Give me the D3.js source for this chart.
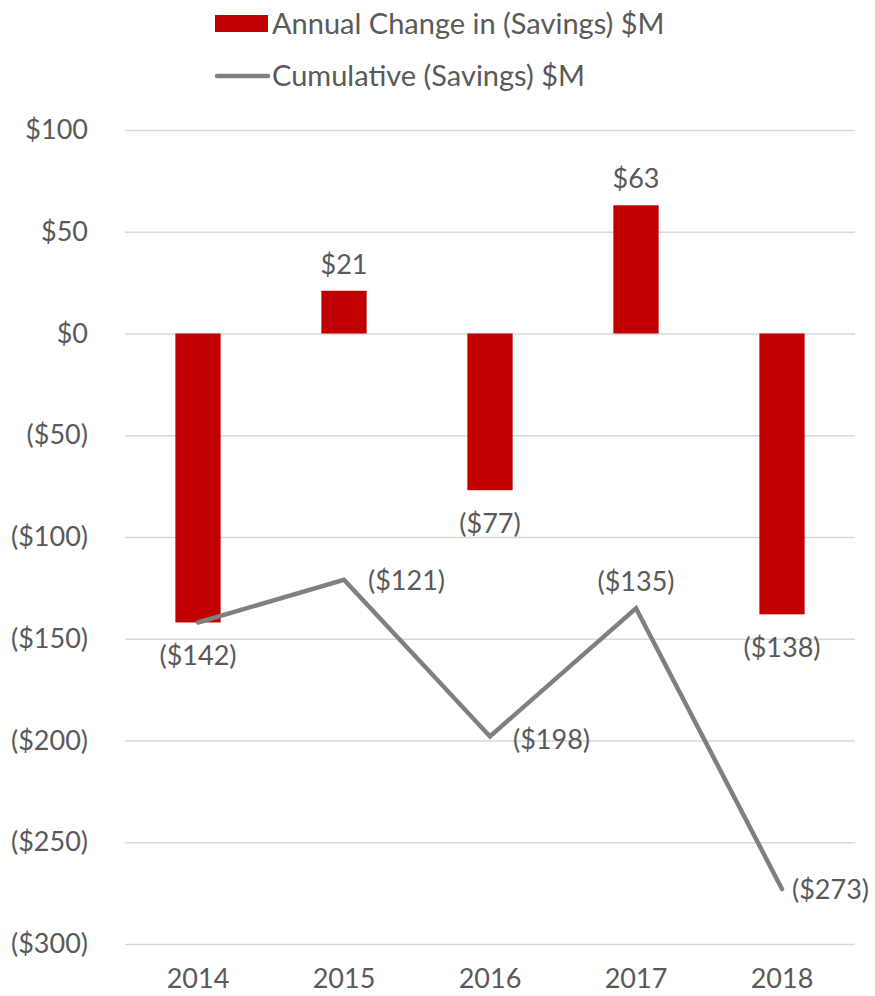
<!DOCTYPE html>
<html><head><meta charset="utf-8">
<script src="https://cdn.jsdelivr.net/npm/d3@7"></script>
<style>
body{margin:0;background:#fff;}
text{font-family:Lato,"Open Sans",sans-serif;fill:#595959;}
</style></head>
<body><svg id="c" width="875" height="996"></svg>
<script>
const years = ["2014","2015","2016","2017","2018"];
const annualChange = [-142, 21, -77, 63, -138];
const cumulative = [-142, -121, -198, -135, -273];
const yTicks = [100, 50, 0, -50, -100, -150, -200, -250, -300];
const seriesNames = ["Annual Change in (Savings) $M", "Cumulative (Savings) $M"];

(function(){
const svg = d3.select("#c");
const mLeft = 125, mRight = 855, mTop = 130, mBottom = 944;
const FS = 27;
const x = d3.scaleBand().domain(years).range([mLeft, mRight]).paddingInner(0.69).paddingOuter(0.345);
const y = d3.scaleLinear().domain([-300, 100]).range([mBottom, mTop]);
const fmt = v => v < 0 ? "($" + Math.abs(v) + ")" : "$" + v;

// gridlines
const yAxis = d3.axisLeft(y).tickValues(yTicks).tickSize(-(mRight-mLeft)).tickFormat(fmt).tickPadding(37);
const gy = svg.append("g").attr("transform", `translate(${mLeft},0)`).call(yAxis);
gy.select(".domain").remove();
gy.selectAll(".tick line").attr("stroke", "#d9d9d9").attr("stroke-width", 1.5);
gy.selectAll(".tick text").attr("font-size", FS).style("fill", "#595959").style("font-family","Lato,'Open Sans',sans-serif");

// x axis labels
const xAxis = d3.axisBottom(x).tickSize(0).tickPadding(25);
const gx = svg.append("g").attr("transform", `translate(0,${mBottom})`).call(xAxis);
gx.select(".domain").remove();
gx.selectAll(".tick text").attr("font-size", FS).style("fill", "#595959").style("font-family","Lato,'Open Sans',sans-serif");

// bars
svg.append("g").selectAll("rect").data(annualChange).join("rect")
  .attr("x", (d,i) => x(years[i]))
  .attr("width", x.bandwidth())
  .attr("y", d => y(Math.max(0, d)))
  .attr("height", d => Math.abs(y(d) - y(0)))
  .attr("fill", "#c00000");

// bar labels
svg.append("g").selectAll("text").data(annualChange).join("text")
  .attr("x", (d,i) => x(years[i]) + x.bandwidth()/2)
  .attr("y", d => d >= 0 ? y(d) - 17 : y(d) + 43)
  .attr("text-anchor", "middle").attr("font-size", FS)
  .text(d => fmt(d));

// line
const line = d3.line().x((d,i) => x(years[i]) + x.bandwidth()/2).y(d => y(d));
svg.append("path").datum(cumulative).attr("d", line)
  .attr("fill", "none").attr("stroke", "#808080").attr("stroke-width", 4.5)
  .attr("stroke-linecap", "round").attr("stroke-linejoin", "miter");

// line labels (2014 coincides with bar label)
const linePos = [null, "right", "right", "above", "right"];
const lineDx = [0, 24, 23, 0, 10];
const lineDy = [0, 1, 3, -17, 0];
const lineLab = cumulative.map((v,i) => ({v, i})).filter(o => linePos[o.i] !== null);
svg.append("g").selectAll("text").data(lineLab).join("text")
  .attr("x", o => x(years[o.i]) + x.bandwidth()/2 + lineDx[o.i])
  .attr("y", o => y(o.v) + lineDy[o.i])
  .attr("text-anchor", o => linePos[o.i] === "above" ? "middle" : "start")
  .attr("dy", o => linePos[o.i] === "above" ? 0 : "0.35em")
  .attr("font-size", FS)
  .text(o => fmt(o.v));

// legend
const lg = svg.append("g");
lg.append("rect").attr("x", 215).attr("y", 15).attr("width", 53).attr("height", 17).attr("fill", "#c00000");
lg.append("text").attr("x", 272).attr("y", 34).attr("font-size", 29).text(seriesNames[0]);
lg.append("line").attr("x1", 217).attr("x2", 268).attr("y1", 76).attr("y2", 76)
  .attr("stroke", "#808080").attr("stroke-width", 4.5).attr("stroke-linecap", "round");
lg.append("text").attr("x", 272).attr("y", 86).attr("font-size", 29).text(seriesNames[1]);
})();
</script></body></html>
